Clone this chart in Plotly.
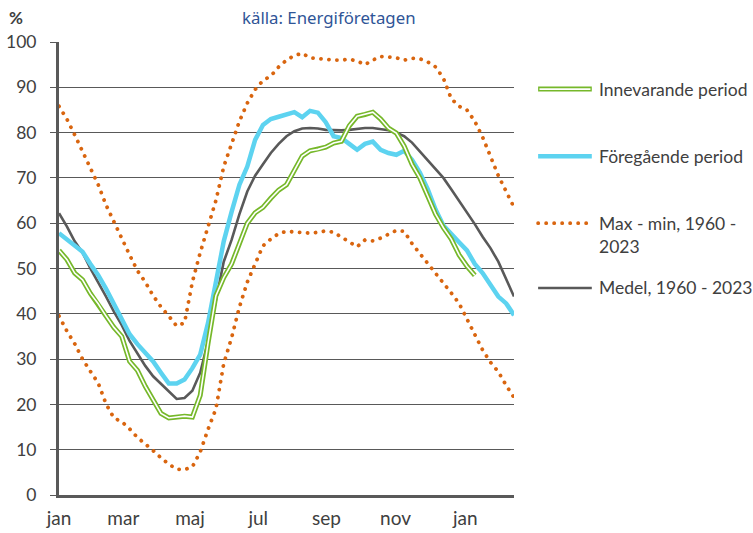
import plotly.graph_objects as go

# week index along the x axis (jan -> following feb)
weeks = list(range(59))
month_pos = [0, 8.2, 16.7, 25.4, 34.1, 42.9, 51.8]
month_labels = ["jan", "mar", "maj", "jul", "sep", "nov", "jan"]

innevarande = [54, 52, 49, 47.5, 44.5, 42.2, 39.5, 37, 35, 29.5,
               27.5, 24, 21, 18, 17, 17.2, 17.4, 17.2, 22, 33.5,
               44, 48, 51, 55.5, 60, 62.3, 63.5, 65.5, 67.3, 68.5,
               71.5, 74.8, 76, 76.3, 76.8, 77.7, 78.1, 81.5, 83.6, 84,
               84.5, 83, 81, 79.9, 77, 73, 70, 66, 62, 59,
               56.5, 53, 50.5, 48.5]

foregaende = [57.8, 56.5, 55.2, 53.7, 51, 48.5, 45.5, 42, 39, 35.5,
              33.3, 31.5, 29.5, 27, 24.6, 24.6, 25.5, 28, 31, 38,
              47, 56, 62.5, 68.5, 72.5, 78.4, 81.7, 83, 83.5, 84,
              84.5, 83.4, 84.8, 84.4, 82.3, 79.2, 78.8, 77.5, 76.2, 77.5,
              78, 76.2, 75.5, 75.1, 76, 74, 71.2, 67.5, 63, 59.5,
              57.5, 55.8, 54, 51, 49, 46.5, 43.8, 42.3, 39.7]

medel = [62.2, 59.3, 56, 53.5, 50, 47, 43.8, 40.5, 37.5, 34,
         31.2, 28.5, 26.2, 24.5, 22.8, 21.2, 21.4, 23, 27, 34,
         43, 51.5, 56.3, 62, 67, 70.5, 73, 75.5, 77.5, 79.2,
         80.3, 80.9, 81, 80.9, 80.6, 80.5, 80.5, 80.6, 80.8, 81,
         81, 80.8, 80.5, 80, 79.2, 77.8, 75.8, 74, 72, 70,
         67.5, 65, 62.5, 59.8, 57, 54.5, 51.5, 47.5, 43.8]

max_1960 = [85.8, 83, 79.5, 75.8, 72.5, 68.5, 64, 60.2, 56.5, 53,
            49.5, 47, 44, 41.5, 39.5, 37.3, 38, 47, 53.5, 59,
            65, 72.5, 77.5, 82.5, 86.5, 89.5, 91.5, 92.5, 94.5, 96,
            97, 97.5, 96.5, 96.3, 96.2, 96, 96, 96.2, 95.8, 95,
            96, 96.8, 96.7, 96.5, 96, 96.4, 96.3, 95.6, 94.5, 92,
            87.5, 85.8, 85, 82.5, 79, 74.5, 70.5, 67, 63.5]

min_1960 = [39.5, 36.2, 33.4, 30, 27.3, 24.7, 20.1, 17, 16.2, 14.6,
            12.7, 11.3, 9.8, 8.2, 6.8, 5.7, 5.6, 6.2, 9.5, 14.5,
            19, 29, 34.7, 41.5, 47, 51, 55, 56.5, 57.7, 58.2,
            58, 58, 57.8, 58, 58.3, 58, 56.9, 55.7, 54.8, 56.3,
            56.1, 56.7, 57.5, 58.4, 58.2, 55.5, 53.3, 51.2, 49, 46.9,
            44.6, 42.3, 38.8, 35.5, 32, 29.3, 27.2, 24.2, 21.5]

GREEN = "#76B82A"
BLUE = "#5DD3F0"
GREY = "#595959"
ORANGE = "#D9650F"
TEXT = "#404040"
FONT = "Lato"

fig = go.Figure()

# tiny dashes, turned into round dots by the post script below
dotted = dict(color=ORANGE, width=3.8, dash="0.1px,7.9px")
fig.add_trace(go.Scatter(x=weeks[:len(max_1960)], y=max_1960, mode="lines",
                         line=dotted, showlegend=False))
fig.add_trace(go.Scatter(x=weeks[:len(min_1960)], y=min_1960, mode="lines",
                         line=dotted, showlegend=False))
fig.add_trace(go.Scatter(x=weeks[:len(medel)], y=medel, mode="lines",
                         line=dict(color=GREY, width=2.6), showlegend=False))
fig.add_trace(go.Scatter(x=weeks[:len(foregaende)], y=foregaende, mode="lines",
                         line=dict(color=BLUE, width=4.5), showlegend=False))
# double line: green outline with white core
fig.add_trace(go.Scatter(x=weeks[:len(innevarande)], y=innevarande, mode="lines",
                         line=dict(color=GREEN, width=5), showlegend=False))
fig.add_trace(go.Scatter(x=weeks[:len(innevarande)], y=innevarande, mode="lines",
                         line=dict(color="white", width=1.6), showlegend=False))

# hand-made legend to the right of the plot
legend_items = [
    ("Innevarande period", 0.896, "double"),
    ("Föregående period", 0.748, "blue"),
    ("Max - min, 1960 -<br>2023", 0.600, "dot"),
    ("Medel, 1960 - 2023", 0.457, "grey"),
]
x0, x1, xt = 1.053, 1.171, 1.183
for name, yy, kind in legend_items:
    if kind == "double":
        fig.add_shape(type="line", xref="paper", yref="paper", x0=x0, x1=x1, y0=yy, y1=yy,
                      line=dict(color=GREEN, width=5))
        fig.add_shape(type="line", xref="paper", yref="paper", x0=x0 + 0.003, x1=x1 - 0.003,
                      y0=yy, y1=yy, line=dict(color="white", width=1.6))
    elif kind == "blue":
        fig.add_shape(type="line", xref="paper", yref="paper", x0=x0, x1=x1, y0=yy, y1=yy,
                      line=dict(color=BLUE, width=4.5))
    elif kind == "dot":
        fig.add_shape(type="line", xref="paper", yref="paper", x0=x0, x1=x1, y0=yy, y1=yy,
                      line=dotted)
    else:
        fig.add_shape(type="line", xref="paper", yref="paper", x0=x0, x1=x1, y0=yy, y1=yy,
                      line=dict(color=GREY, width=2.6))
    fig.add_annotation(text=name, xref="paper", yref="paper", x=xt, y=yy,
                       xanchor="left", yanchor="top" if "<br>" in name else "middle",
                       yshift=12 if "<br>" in name else 0,
                       showarrow=False, align="left",
                       font=dict(family=FONT, size=17.5, color=TEXT))

fig.add_annotation(text="källa: Energiföretagen", xref="paper", yref="paper",
                   x=0.593, y=1.053, xanchor="center", yanchor="middle", showarrow=False,
                   font=dict(family="Noto Sans", size=16.8, color="#2F5597"))
fig.add_annotation(text="<b>%</b>", xref="paper", yref="paper",
                   x=-0.0945, y=1.055, xanchor="center", yanchor="middle", showarrow=False,
                   font=dict(family=FONT, size=17, color=TEXT))

fig.update_layout(
    width=753, height=533,
    margin=dict(l=59, r=239, t=42, b=38),
    paper_bgcolor="white", plot_bgcolor="white",
    font=dict(family=FONT, size=17, color=TEXT),
)
fig.update_xaxes(range=[0, 58], tickvals=month_pos, ticktext=month_labels,
                 showgrid=False, zeroline=False, showline=True, automargin=False,
                 linecolor=GREY, linewidth=3, ticks="", ticklabelstandoff=4,
                 tickfont=dict(family=FONT, size=19, color=TEXT))
fig.update_yaxes(range=[0, 100], dtick=10, showgrid=True, gridcolor=GREY, gridwidth=1,
                 zeroline=False, showline=True, linecolor=GREY, linewidth=3, automargin=False,
                 ticks="outside", ticklen=6, tickcolor=GREY, tickwidth=1,
                 ticklabelstandoff=10,
                 tickfont=dict(family=FONT, size=17.5, color=TEXT))

# page without body margin + round caps on the dotted lines
post = """
document.body.style.margin = '0';
var gd = document.getElementById('{plot_id}');
function roundDots() {
  gd.querySelectorAll('path').forEach(function (p) {
    var d = p.style.strokeDasharray || '';
    if (d.indexOf('0.1') === 0) { p.style.strokeLinecap = 'round'; }
  });
}
roundDots();
gd.on('plotly_afterplot', roundDots);
"""

fig.write_html("out.html", post_script=post, config={"displayModeBar": False})
